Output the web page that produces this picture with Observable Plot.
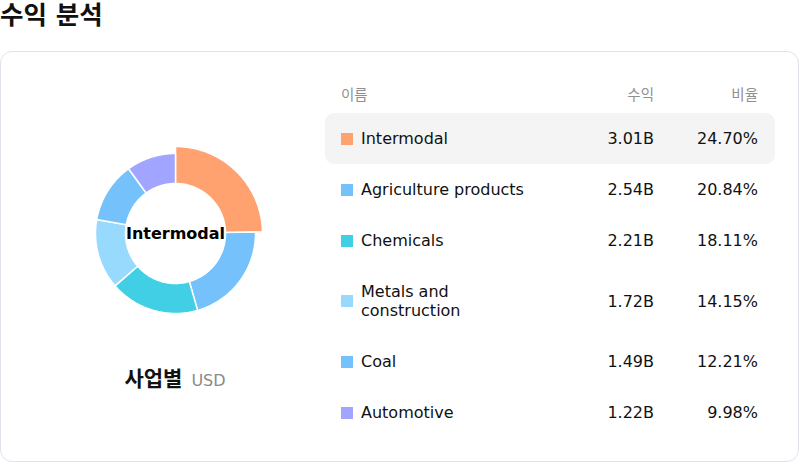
<!DOCTYPE html>
<html>
<head>
<meta charset="utf-8">
<script src="https://cdn.jsdelivr.net/npm/d3@7"></script>
<script src="https://cdn.jsdelivr.net/npm/@observablehq/plot@0.6"></script>
<style>
  html, body { margin: 0; padding: 0; background: #fff; }
  body { width: 800px; height: 463px; position: relative; overflow: hidden;
         font-family: "DejaVu Sans", "Noto Sans CJK KR", sans-serif; color: #111; }
  #title { position: absolute; left: 0; top: 0; font-size: 25.5px; font-weight: bold; line-height: 31px; }
  #card { position: absolute; left: 0; top: 51px; width: 799px; height: 411px; box-sizing: border-box;
          border: 1px solid #e2e2ee; border-radius: 12px; }
  #donut { position: absolute; left: 75px; top: 133px; width: 200px; height: 200px; }
  #sub { position: absolute; left: 0; width: 350px; top: 365px; text-align: center; line-height: 28px; }
  #sub .a { font-size: 21px; font-weight: bold; color: #111; }
  #sub .b { font-size: 16px; color: #8a8a8a; margin-left: 9px; }
  #table { position: absolute; left: 325px; top: 80px; width: 450px; }
  .row { display: grid; grid-template-columns: 1fr 100px 104px; padding: 16px 17px 16px 16px; align-items: center;
         font-size: 16px; line-height: 19px; }
  .hdr { padding: 6px 17px 9px 16px; font-size: 14.5px; line-height: 18px; color: #8f8f8f; }
  .row.hl { background: #f4f4f4; border-radius: 9px; }
  .name { display: flex; align-items: center; }
  .sw { width: 12px; height: 12px; flex: none; margin-right: 8px; }
  .nm { max-width: 172px; }
  .r { text-align: right; }
</style>
</head>
<body>
<div id="title">수익 분석</div>
<div id="card"></div>
<div id="donut"></div>
<div id="sub"><span class="a">사업별</span><span class="b">USD</span></div>
<div id="table"></div>
<script>
const names = ["Intermodal", "Agriculture products", "Chemicals", "Metals and construction", "Coal", "Automotive"];
const revenue = ["3.01B", "2.54B", "2.21B", "1.72B", "1.49B", "1.22B"];
const share = [24.70, 20.84, 18.11, 14.15, 12.21, 9.98];
const colors = ["#FFA26F", "#74C1FC", "#41CFE5", "#98DAFD", "#74C1FC", "#A2A5FF"];
const headers = ["이름", "수익", "비율"];
const active = "Intermodal";

// donut geometry from data
const rInner = 50, rOuter = 80, rActive = 87;
const arcs = d3.pie().sort(null).value(d => d)(share);
const pts = [];
arcs.forEach((a, i) => {
  const ro = names[i] === active ? rActive : rOuter;
  const n = 60;
  for (let k = 0; k <= n; k++) {
    const t = a.startAngle + (a.endAngle - a.startAngle) * k / n;
    pts.push({name: names[i], x: ro * Math.sin(t), y: ro * Math.cos(t), c: colors[i]});
  }
  for (let k = n; k >= 0; k--) {
    const t = a.startAngle + (a.endAngle - a.startAngle) * k / n;
    pts.push({name: names[i], x: rInner * Math.sin(t), y: rInner * Math.cos(t), c: colors[i]});
  }
});

const chart = Plot.plot({
  width: 200, height: 200, margin: 0,
  x: {domain: [-100, 100], axis: null},
  y: {domain: [-100, 100], axis: null},
  style: {background: "transparent", fontFamily: "DejaVu Sans"},
  marks: [
    Plot.line(pts, {x: "x", y: "y", z: "name", fill: "c", stroke: "#fff", strokeWidth: 1.5, curve: "linear-closed"}),
    Plot.text([active], {x: () => 0, y: () => 0, text: d => d, fontSize: 16, fontWeight: "bold", fill: "#000"})
  ]
});
document.getElementById("donut").appendChild(chart);

// table
const tbl = document.getElementById("table");
const h = document.createElement("div");
h.className = "row hdr";
h.innerHTML = `<div>${headers[0]}</div><div class="r">${headers[1]}</div><div class="r">${headers[2]}</div>`;
tbl.appendChild(h);
names.forEach((n, i) => {
  const r = document.createElement("div");
  r.className = "row" + (n === active ? " hl" : "");
  r.innerHTML = `<div class="name"><span class="sw" style="background:${colors[i]}"></span><span class="nm">${n}</span></div>` +
    `<div class="r">${revenue[i]}</div><div class="r">${share[i].toFixed(2)}%</div>`;
  tbl.appendChild(r);
});
</script>
</body>
</html>
